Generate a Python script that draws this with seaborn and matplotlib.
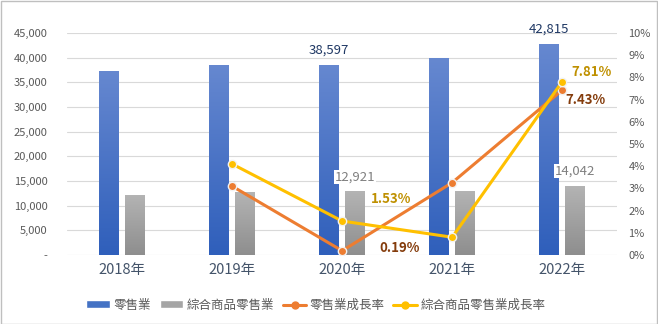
import numpy as np
import pandas as pd
import matplotlib
matplotlib.use("Agg")
import matplotlib.pyplot as plt
import seaborn as sns
from matplotlib.patches import Patch
from matplotlib.lines import Line2D
from matplotlib.colors import LinearSegmentedColormap

years = ["2018年", "2019年", "2020年", "2021年", "2022年"]
retail = [37366, 38524, 38597, 39854, 42815]
general = [12225, 12726, 12921, 13025, 14042]
retail_growth = [np.nan, 0.0310, 0.0019, 0.0326, 0.0743]
general_growth = [np.nan, 0.0410, 0.0153, 0.0080, 0.0781]
names = ["零售業", "綜合商品零售業", "零售業成長率", "綜合商品零售業成長率"]

sns.set_theme(style="white")
plt.rcParams["font.family"] = ["Noto Sans CJK TC", "DejaVu Sans"]

BLUE = "#4472C4"
GRAY = "#A5A5A5"
ORANGE = "#ED7D31"
YELLOW = "#FFC000"
TXT = "#595959"

fig = plt.figure(figsize=(6.58, 3.24), dpi=100)
ax = fig.add_axes([0.102, 0.213, 0.836, 0.685])

df = pd.DataFrame({
    "year": years * 2,
    "value": retail + general,
    "series": [names[0]] * 5 + [names[1]] * 5,
})
sns.barplot(data=df, x="year", y="value", hue="series", ax=ax,
            palette=[BLUE, GRAY], width=0.47, gap=0.234, legend=False,
            saturation=1, errorbar=None)

# gradient fill for bars
cm_blue = LinearSegmentedColormap.from_list("b", ["#2F5FBB", "#6688D0"])
cm_gray = LinearSegmentedColormap.from_list("g", ["#8E8E8E", "#B4B4B4"])
grad = np.linspace(0, 1, 256).reshape(-1, 1)
for i, p in enumerate(list(ax.patches)):
    x0, y0 = p.get_x(), p.get_y()
    w, h = p.get_width(), p.get_height()
    cmap = cm_blue if i < 5 else cm_gray
    im = ax.imshow(grad, cmap=cmap, origin="lower", aspect="auto",
                   extent=[x0, x0 + w, y0, y0 + h], zorder=2)
    im.set_clip_path(p)
    p.set_facecolor("none")
    p.set_edgecolor("none")

ax.set_xlim(-0.5, 4.5)
ax.set_ylim(0, 45000)
ax.set_yticks(np.arange(0, 45001, 5000))
ax.set_yticklabels(["-"] + [f"{v:,}" for v in range(5000, 45001, 5000)])
ax.grid(axis="y", color="#D9D9D9", linewidth=0.8)
ax.set_axisbelow(True)
for s in ax.spines.values():
    s.set_visible(False)
ax.set_xlabel("")
ax.set_ylabel("")
ax.tick_params(axis="y", length=0, labelsize=8, labelcolor=TXT, pad=14)
ax.tick_params(axis="x", length=0, labelsize=10.5, labelcolor="#44546A", pad=6)

# bar labels
bars = ax.patches
for idx in [2, 4]:
    p = bars[idx]
    ax.annotate(f"{retail[idx]:,}", (p.get_x() + p.get_width() / 2, p.get_height()),
                xytext=(0, 8), textcoords="offset pixels", ha="center", va="bottom",
                fontsize=9.5, color="#1F3864", zorder=5)
for idx in [2, 4]:
    p = bars[5 + idx]
    ax.annotate(f"{general[idx]:,}", (p.get_x() + p.get_width() / 2, p.get_height()),
                xytext=(0, 8), textcoords="offset pixels", ha="center", va="bottom",
                fontsize=9.5, color="#7F7F7F", zorder=5,
                bbox=dict(boxstyle="square,pad=0.05", fc="white", ec="none"))

ax2 = ax.twinx()
ax2.set_position(ax.get_position())
xpos = np.arange(len(years))
ldf = pd.DataFrame({
    "x": np.concatenate([xpos, xpos]),
    "rate": retail_growth + general_growth,
    "series": [names[2]] * 5 + [names[3]] * 5,
}).dropna()
sns.lineplot(data=ldf, x="x", y="rate", hue="series", ax=ax2,
             palette=[ORANGE, YELLOW], linewidth=2.2, marker="o", markersize=6,
             markeredgecolor="#F2F2F2", markeredgewidth=1, legend=False)
ax2.set_ylim(0, 0.10)
ax2.set_yticks(np.arange(0, 0.1001, 0.01))
ax2.set_yticklabels([f"{i}%" for i in range(0, 11)])
ax2.tick_params(axis="y", length=0, labelsize=8, labelcolor=TXT, pad=8)
ax2.set_xlim(-0.5, 4.5)
ax2.set_ylabel("")
ax2.set_xlabel("")
for s in ax2.spines.values():
    s.set_visible(False)

BROWN = "#843C0C"
GOLD = "#BF9000"
ax2.annotate(f"{retail_growth[2]*100:.2f}%", (2, retail_growth[2]), xytext=(37, 3),
             textcoords="offset pixels", ha="left", va="center", fontsize=9.5,
             fontweight="bold", color=BROWN)
ax2.annotate(f"{general_growth[2]*100:.2f}%", (2, general_growth[2]), xytext=(29, 22),
             textcoords="offset pixels", ha="left", va="center", fontsize=9.5,
             fontweight="bold", color=GOLD)
ax2.annotate(f"{retail_growth[4]*100:.2f}%", (4, retail_growth[4]), xytext=(3, -10),
             textcoords="offset pixels", ha="left", va="center", fontsize=9.5,
             fontweight="bold", color=BROWN)
ax2.annotate(f"{general_growth[4]*100:.2f}%", (4, general_growth[4]), xytext=(9, 10),
             textcoords="offset pixels", ha="left", va="center", fontsize=9.5,
             fontweight="bold", color=GOLD)

handles = [
    Patch(facecolor=BLUE, label=names[0]),
    Patch(facecolor=GRAY, label=names[1]),
    Line2D([], [], color=ORANGE, lw=2.2, marker="o", markersize=5, label=names[2]),
    Line2D([], [], color=YELLOW, lw=2.2, marker="o", markersize=5, label=names[3]),
]
leg = fig.legend(handles=handles, loc="center", bbox_to_anchor=(0.48, 0.058), ncol=4,
                 frameon=False, fontsize=9, handlelength=1.9, handleheight=0.6,
                 columnspacing=0.7, handletextpad=0.25)
for t in leg.get_texts():
    t.set_color(TXT)

fig.patches.append(plt.Rectangle((0.5 / 658, 0.5 / 324), 1 - 1.5 / 658, 1 - 1.5 / 324,
                                 transform=fig.transFigure, fill=False,
                                 edgecolor="#BFBFBF", linewidth=1))

fig.savefig("out.png", dpi=100)
